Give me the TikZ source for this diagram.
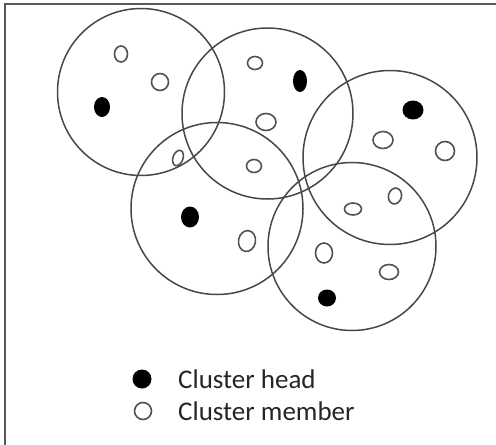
\documentclass[tikz,border=0pt]{standalone}
\usepackage{fontspec}
\setmainfont{Carlito}
\usetikzlibrary{shapes.geometric}
\begin{document}
\begin{tikzpicture}[x=1pt,y=-1pt,
  cluster/.style={circle,draw=black!72,line width=1.5pt,inner sep=0pt,minimum size=#1},
  member/.style={ellipse,draw=black!68,line width=1.6pt,fill=white,inner sep=0pt},
  head/.style={ellipse,fill=black,inner sep=0pt},
  legtext/.style={anchor=base west,inner sep=0pt,text=black!85,font=\fontsize{27}{32}\selectfont}]
\useasboundingbox (0,0) rectangle (496,445);
\coordinate (bl) at (5,445);
\coordinate (tl) at (5,4);
\coordinate (tr) at (496,4);
\draw[black!65,line width=1.6pt] (bl) -- (tl) -- (tr);
% clusters
\node[cluster=167pt] (c1) at (141,92) {};
\node[cluster=171pt] (c2) at (267.5,113.5) {};
\node[cluster=174pt] (c3) at (390,157.5) {};
\node[cluster=172pt] (c4) at (217,208.5) {};
\node[cluster=168pt] (c5) at (352,246.5) {};
% cluster members
\node[member,minimum width=13pt,minimum height=16pt] (m1) at (121,54) {};
\node[member,minimum width=17pt,minimum height=17pt] (m2) at (160,82) {};
\node[member,minimum width=10pt,minimum height=16pt,rotate=-20] (m3) at (178,158) {};
\node[member,minimum width=15pt,minimum height=13pt] (m4) at (255,63) {};
\node[member,minimum width=20pt,minimum height=17pt] (m5) at (266,122) {};
\node[member,minimum width=15pt,minimum height=13pt] (m6) at (254,166) {};
\node[member,minimum width=20pt,minimum height=17pt] (m7) at (383,140) {};
\node[member,minimum width=19pt,minimum height=19pt] (m8) at (445,151) {};
\node[member,minimum width=17pt,minimum height=21pt,rotate=-10] (m9) at (247,241) {};
\node[member,minimum width=17pt,minimum height=12pt] (m10) at (353,209) {};
\node[member,minimum width=13pt,minimum height=16pt,rotate=-15] (m11) at (395,196) {};
\node[member,minimum width=17pt,minimum height=20pt] (m12) at (324,253) {};
\node[member,minimum width=19pt,minimum height=15pt] (m13) at (389,272) {};
% cluster heads
\node[head,minimum width=16pt,minimum height=20pt] (h1) at (102,107) {};
\node[head,minimum width=14pt,minimum height=22pt] (h2) at (300,81) {};
\node[head,minimum width=21pt,minimum height=19pt] (h3) at (413,110) {};
\node[head,minimum width=18pt,minimum height=21pt] (h4) at (190,217) {};
\node[head,minimum width=18pt,minimum height=17pt] (h5) at (327,298) {};
% legend
\node[head,minimum width=19pt,minimum height=19pt] (lh) at (142,379) {};
\node[member,minimum width=17pt,minimum height=17pt] (lm) at (143,411) {};
\node[legtext] (th) at (178,388) {Cluster head};
\node[legtext] (tm) at (178,420) {Cluster member};
\end{tikzpicture}
\end{document}
